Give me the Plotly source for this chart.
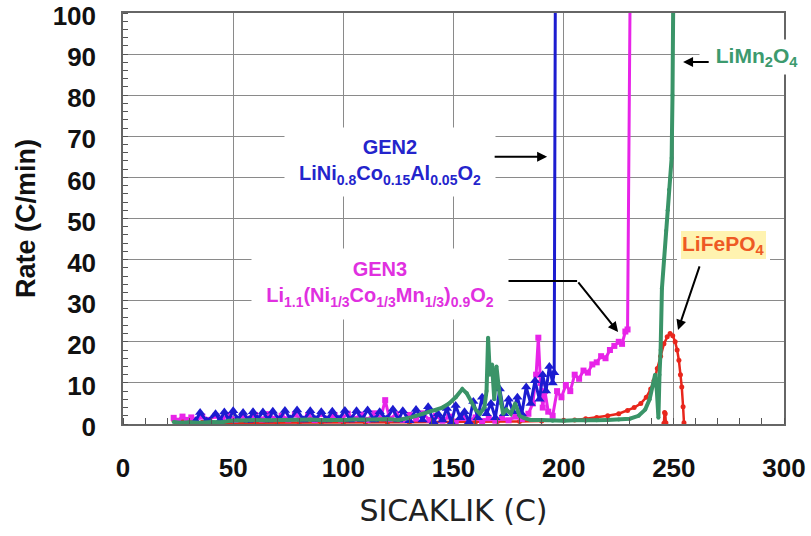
import plotly.graph_objects as go

# ---------------- data ----------------
gen2_x = [33, 35, 38, 42, 44, 46, 48, 50, 52, 54.5, 57, 59, 61, 63.5, 66, 68, 71, 73.5, 76, 79,
          82, 85, 87.5, 90, 92.5, 95, 98, 100.7, 103, 106, 108.5, 111, 114, 116.5, 119.5, 122.5,
          125, 127, 130, 133, 136, 138.5, 141, 143, 145, 147, 149, 151, 153, 155, 157, 159, 161,
          163, 165, 167, 169, 171, 173, 175, 177, 179, 181, 183, 185, 187, 189, 190.5, 192, 193.5,
          195, 195.7, 196.2]
gen2_y = [0.8, 2.8, 0.7, 2.5, 0.9, 2.9, 1.0, 3.2, 1.1, 2.8, 0.9, 3.0, 1.2, 2.9, 1.0, 3.1, 1.1, 3.3,
          1.2, 3.4, 1.0, 3.2, 1.1, 3.0, 1.0, 3.1, 1.2, 3.3, 1.0, 3.2, 1.1, 3.4, 1.0, 3.0, 1.2, 3.6,
          1.0, 3.2, 0.8, 3.5, 1.0, 4.2, 0.5, 2.5, 1.0, 3.8, 0.3, 4.5, 1.5, 3.0, 0.5, 5.5, 1.5, 6.5,
          2.5, 5.0, 1.5, 8.5, 2.5, 6.0, 3.0, 6.5, 2.5, 9.0, 5.0, 10.5, 6.0, 12.0, 8.0, 14.0, 10.0,
          12.5, 101]

gen3_x = [23, 25, 27, 29, 31, 33, 36, 39, 42, 45, 48, 51, 54, 57, 60, 63, 66, 69, 72, 75, 78, 81,
          84, 87, 90, 93, 96, 99, 102, 105, 108, 111, 114, 117, 119, 121, 124, 127, 130, 133, 136,
          139, 142, 145, 148, 151, 154, 157, 160, 163, 166, 169, 172, 175, 178, 181, 184, 186,
          187.5, 188.5, 189.5, 190.5, 191.5, 193, 195, 197, 199, 201, 203, 205, 207, 209, 211, 213,
          215, 217, 219, 221, 223, 225, 226.5, 228, 229, 230.1]
gen3_y = [1.5, 0.8, 1.8, 1.0, 1.6, 0.9, 1.8, 1.0, 2.0, 1.2, 2.2, 1.0, 2.0, 1.3, 2.2, 1.1, 2.4, 1.2,
          2.0, 1.1, 2.3, 1.2, 2.1, 1.0, 2.4, 1.3, 2.2, 1.1, 2.5, 1.2, 2.3, 1.0, 2.6, 1.5, 5.8, 1.2,
          2.4, 1.0, 2.2, 1.3, 2.6, 1.0, 2.0, 0.8, 1.8, 0.6, 1.5, 0.8, 1.6, 0.7, 1.4, 0.8, 1.5, 0.9,
          1.8, 1.2, 2.5, 5.0, 12.0, 21.0, 10.0, 4.0, 8.0, 3.0, 2.0, 8.0, 6.5, 9.5, 8.0, 12.0, 11.0,
          13.0, 12.5, 14.5, 15.0, 16.5, 16.0, 18.0, 19.0, 20.0, 19.5, 22.5, 23.0, 101.0]

limn_x = [23, 26, 30, 35, 40, 45, 48, 52, 56, 60, 65, 70, 75, 80, 85, 90, 95, 100, 105, 110, 115,
          120, 125, 130, 133, 136, 139, 142, 145, 148, 151, 154, 156, 158, 160, 162, 164, 165,
          165.7, 166.5, 167.5, 168.5, 169.5, 170.5, 171.5, 172.5, 174, 176, 178, 180, 182, 185,
          190, 195, 200, 205, 210, 215, 220, 225, 230, 234, 237, 239, 240.5, 241.5, 242.3, 243,
          243.5, 244, 244.6, 245.5, 246.5, 247.2, 247.8, 248.5, 249, 249.4, 249.7]
limn_y = [0.5, 0.3, 0.4, 0.3, 0.5, 0.4, 0.8, 0.9, 0.8, 1.0, 0.9, 1.0, 0.9, 1.0, 1.1, 1.0, 0.9, 1.0,
          1.1, 1.0, 1.1, 1.2, 1.0, 1.5, 2.0, 2.5, 3.0, 3.3, 4.0, 5.0, 6.5, 8.5, 7.5, 5.5, 3.5, 2.5,
          4.0, 8.0, 21.0, 12.0, 14.5, 6.0, 14.0, 9.0, 5.0, 2.5, 3.5, 2.5, 5.0, 2.0, 1.5, 1.0, 1.0,
          0.8, 0.8, 0.9, 0.8, 0.9, 1.0, 1.1, 1.3, 2.0, 3.5, 6.0, 9.5, 12.0, 8.0, 1.5, 12.0, 18.0,
          33.0, 40.0, 47.0, 52.0, 57.0, 60.0, 64.7, 80.0, 101.0]

lfp_x = [23, 25, 27, 29, 31, 33, 36, 40, 45, 50, 60, 70, 80, 90, 100, 110, 120, 130, 140, 150,
         160, 170, 180, 190, 200, 205, 210, 215, 220, 225, 229, 232, 235, 237.5, 239.5, 241,
         242.5, 244, 245.5, 247, 248.3, 249.5, 250.6, 251.5, 252.3, 253, 253.6, 254.2, 254.6]
lfp_y = [1.0, 0.5, 1.2, 0.6, 1.0, 0.5, 0.4, 0.3, 0.3, 0.3, 0.3, 0.3, 0.3, 0.4, 0.3, 0.4, 0.4, 0.4,
         0.5, 0.5, 0.5, 0.6, 0.6, 0.7, 0.9, 1.0, 1.3, 1.6, 2.0, 2.5, 3.3, 4.0, 5.0, 6.5, 8.5,
         10.5, 13.5, 16.5, 19.5, 21.2, 22.0, 21.5, 20.0, 18.0, 15.5, 12.0, 9.0, 4.2, 0.3]
lfp_spike_x = [245.5, 245.8, 246.1, 246.4]
lfp_spike_y = [0.2, 2.8, 2.5, 0.3]

x_ticks = [0, 50, 100, 150, 200, 250, 300]
y_ticks = [0, 10, 20, 30, 40, 50, 60, 70, 80, 90, 100]

# ---------------- colours ----------------
C_BLUE = "#1C1CD0"
C_MAG = "#E824E8"
C_GREEN = "#3A9468"
C_RED = "#E8261C"

fig = go.Figure()

fig.add_trace(go.Scatter(x=lfp_x, y=lfp_y, mode="lines+markers",
                         line=dict(color=C_RED, width=2.5),
                         marker=dict(symbol="circle", size=5, color=C_RED), name="LiFePO4"))
fig.add_trace(go.Scatter(x=lfp_spike_x, y=lfp_spike_y, mode="lines+markers",
                         line=dict(color=C_RED, width=2.5),
                         marker=dict(symbol="circle", size=5, color=C_RED), name="LiFePO4 b"))
fig.add_trace(go.Scatter(x=gen3_x, y=gen3_y, mode="lines+markers",
                         line=dict(color=C_MAG, width=3),
                         marker=dict(symbol="square", size=6, color=C_MAG), name="GEN3"))
fig.add_trace(go.Scatter(x=gen2_x, y=gen2_y, mode="lines+markers",
                         line=dict(color=C_BLUE, width=3),
                         marker=dict(symbol="triangle-up", size=9, color=C_BLUE), name="GEN2"))
fig.add_trace(go.Scatter(x=limn_x, y=limn_y, mode="lines+markers",
                         line=dict(color=C_GREEN, width=4),
                         marker=dict(symbol="circle", size=4, color=C_GREEN), name="LiMn2O4"))

BOLD = dict(family="Liberation Sans, Arial", weight="bold")

annotations = [
    dict(x=121.2, y=63.7, xref="x", yref="y", showarrow=False,
         text="GEN2<br>LiNi<sub>0.8</sub>Co<sub>0.15</sub>Al<sub>0.05</sub>O<sub>2</sub>",
         font=dict(size=20, color="#2424CC", **BOLD), bgcolor="white",
         width=208, height=66, align="center"),
    dict(x=192.5, y=65.0, ax=168.0, ay=65.0, xref="x", yref="y", axref="x", ayref="y",
         text="", showarrow=True, arrowhead=2, arrowsize=1, arrowwidth=2, arrowcolor="black"),
    dict(x=116.5, y=34.0, xref="x", yref="y", showarrow=False,
         text="GEN3<br>Li<sub>1.1</sub>(Ni<sub>1/3</sub>Co<sub>1/3</sub>Mn<sub>1/3</sub>)<sub>0.9</sub>O<sub>2</sub>",
         font=dict(size=20, color="#E030E0", **BOLD), bgcolor="white",
         width=254, height=68, align="center"),
    dict(x=224.7, y=22.4, ax=206.1, ay=34.8, xref="x", yref="y", axref="x", ayref="y",
         text="", showarrow=True, arrowhead=2, arrowsize=1, arrowwidth=2, arrowcolor="black"),
    dict(x=287.8, y=89.3, xref="x", yref="y", showarrow=False,
         text="LiMn<sub>2</sub>O<sub>4</sub>",
         font=dict(size=21, color="#3C9A6E", **BOLD), bgcolor="white",
         width=112, height=32, align="center"),
    dict(x=254.2, y=88.1, ax=266.5, ay=88.1, xref="x", yref="y", axref="x", ayref="y",
         text="", showarrow=True, arrowhead=2, arrowsize=1, arrowwidth=2, arrowcolor="black"),
    dict(x=272.4, y=43.6, xref="x", yref="y", showarrow=False,
         text="LiFePO<sub>4</sub>",
         font=dict(size=21, color="#EE5A24", **BOLD), bgcolor="#FFF3B0",
         bordercolor="white", borderwidth=4, borderpad=1, align="center"),
    dict(x=251.9, y=22.9, ax=261.9, ay=38.7, xref="x", yref="y", axref="x", ayref="y",
         text="", showarrow=True, arrowhead=2, arrowsize=1, arrowwidth=2, arrowcolor="black"),
]

shapes = [
    dict(type="line", xref="x", yref="y", x0=174.3, y0=34.8, x1=206.1, y1=34.8,
         line=dict(color="black", width=2), layer="above"),
]

fig.update_layout(
    width=811, height=536,
    margin=dict(l=123, r=27, t=13, b=112, autoexpand=False),
    plot_bgcolor="white", paper_bgcolor="white",
    showlegend=False,
    annotations=annotations,
    shapes=shapes,
    xaxis=dict(
        range=[0, 300], tickvals=x_ticks, ticktext=[str(v) for v in x_ticks],
        automargin=False,
        showgrid=True, gridcolor="#8a8a8a", gridwidth=1,
        showline=True, linecolor="#666666", linewidth=1.5, mirror=True,
        ticks="", zeroline=False,
        minor=dict(dtick=10, ticks="inside", ticklen=6, tickcolor="#555555", showgrid=False),
        tickfont=dict(size=26, color="#111111", **BOLD),
        ticklabelstandoff=20, ticklabeloverflow="allow",
        title=dict(text="SICAKLIK (C)", font=dict(family="DejaVu Sans", size=30, color="#222222"),
                   standoff=18),
    ),
    yaxis=dict(
        range=[0, 100], tickvals=y_ticks, ticktext=[str(v) for v in y_ticks],
        automargin=False,
        showgrid=True, gridcolor="#8a8a8a", gridwidth=1,
        showline=True, linecolor="#666666", linewidth=1.5, mirror=True,
        ticks="", zeroline=False,
        minor=dict(dtick=2, ticks="inside", ticklen=5, tickcolor="#555555", showgrid=False),
        tickfont=dict(size=26, color="#111111", **BOLD),
        ticklabelstandoff=20, ticklabelshift=3, ticklabeloverflow="allow",
        title=dict(text="Rate (C/min)", font=dict(size=27, color="#111111", **BOLD),
                   standoff=9),
    ),
)

fig.write_html("out.html")
